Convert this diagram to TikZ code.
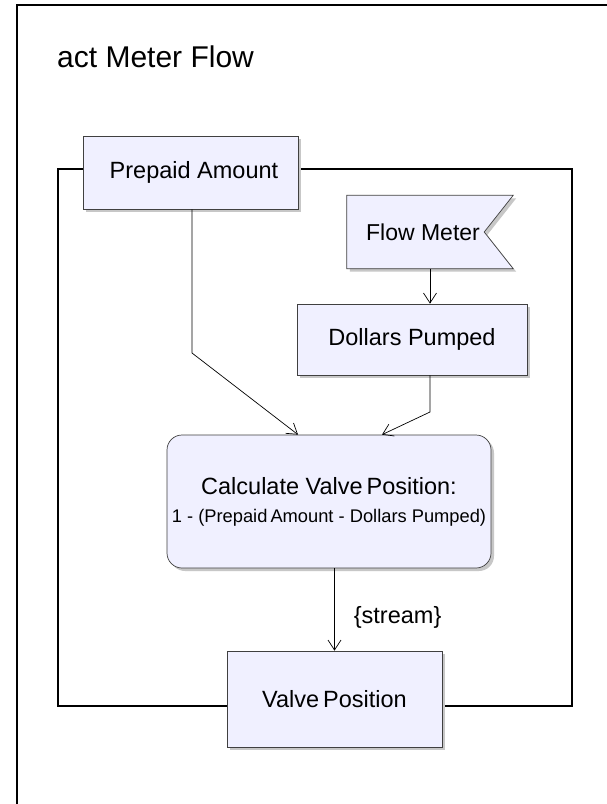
\documentclass[tikz,border=0pt]{standalone}
\usepackage{fontspec}
\setmainfont{Liberation Sans}
\usetikzlibrary{arrows.meta,calc,shadows,positioning}

\begin{document}
\begin{tikzpicture}[x=1pt,y=-1pt,>={Straight Barb[length=10pt,width=13pt]}]
        \tikzstyle{pin} = [draw=black!75, fill=actfill, inner sep=0pt, line width=0.7pt,
          drop shadow={shadow xshift=3pt, shadow yshift=-3pt, fill=black!22, opacity=1},
          font=\fontsize{23.5}{27}\selectfont]
        \tikzstyle{action} = [pin, rounded corners=15pt, align=center]
        \tikzstyle{flow} = [->, line width=0.7pt]
        \tikzstyle{frame} = [line width=1.6pt]
        \definecolor{actfill}{RGB}{240,240,255}

        \useasboundingbox [fill=white] (0,0) rectangle (607,804);

        % diagram frame and activity boundary
        \draw [frame] (17,804) -- (17,5) -- (607,5);
        \node [anchor=west, inner sep=0pt, font=\fontsize{30}{34}\selectfont] (title) at (57,57) {act Meter Flow};
        \draw [frame] (58,169) rectangle (572,706);

        \node [pin, minimum width=215pt, minimum height=73pt] (prepaid) at (190.5,172.5) {\hspace*{7pt}Prepaid Amount};
        \node [inner sep=0pt, minimum width=166pt, minimum height=73pt] (meter) at (430,232) {};
        \fill [black!22] ([shift={(3pt,-3pt)}]meter.north west) -- ([shift={(3pt,-3pt)}]meter.north east)
          -- ([shift={(-26pt,-3pt)}]meter.east) -- ([shift={(3pt,-3pt)}]meter.south east) -- ([shift={(3pt,-3pt)}]meter.south west) -- cycle;
        \draw [draw=black!75, fill=actfill, line width=0.7pt] (meter.north west) -- (meter.north east)
          -- ([xshift=-29pt]meter.east) -- (meter.south east) -- (meter.south west) -- cycle;
        \node [inner sep=0pt, font=\fontsize{23}{26}\selectfont] (metertext) at ([xshift=-7pt]meter.center) {Flow Meter};
        \node [pin, minimum width=230pt, minimum height=71pt] (dollars) at (412,339.5) {Dollars Pumped};
        \node [action, minimum width=324pt, minimum height=133pt] (calc) at (329,501.5)
          {Calculate Valve\,Position:\\[1pt]{\fontsize{18.3}{21}\selectfont 1 - (Prepaid\,Amount - Dollars Pumped)}};
        \node [pin, minimum width=215pt, minimum height=96pt] (valve) at (334.5,699) {Valve\,Position};

        \coordinate (pbend) at ([xshift=1.5pt]prepaid.south |- 0,353);
        \coordinate (dbend) at (meter.south |- 0,412);

        \draw [flow] ([xshift=1.5pt]prepaid.south) -- (pbend) -- ([xshift=-31pt]calc.north);
        \draw [flow] (meter.south) -- (meter.south |- dollars.north);
        \draw [flow] (meter.south |- dollars.south) -- (dbend) -- ([xshift=53pt]calc.north);
        \draw [flow] (valve.north |- calc.south) -- node [pos=0.6, anchor=west, xshift=19pt, inner sep=0pt, font=\fontsize{23.5}{27}\selectfont] {\{stream\}} (valve.north);
    \end{tikzpicture}
\end{document}
